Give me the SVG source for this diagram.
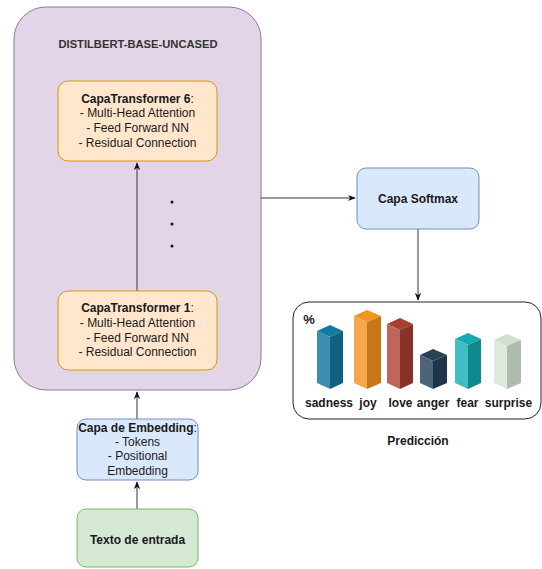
<svg xmlns="http://www.w3.org/2000/svg" width="542" height="569" viewBox="0 0 542 569">
<defs>
<style>
text{font-family:"Liberation Sans",Arial,sans-serif;font-size:12px;fill:#1a1a1a;text-anchor:middle}
.b{font-weight:bold}
.purple{fill:#e1d5e7;stroke:#9673a6;stroke-width:1}
.orange{fill:#ffe6cc;stroke:#d79b00;stroke-width:1}
.blue{fill:#dae8fc;stroke:#6c8ebf;stroke-width:1}
.green{fill:#d5e8d4;stroke:#82b366;stroke-width:1}
.edge{fill:none;stroke:#333;stroke-width:1}
.edgeg{fill:none;stroke:#555;stroke-width:1.2}
</style>
<marker id="ah" viewBox="0 0 10 10" refX="9" refY="5" markerWidth="8" markerHeight="8" markerUnits="userSpaceOnUse" orient="auto">
<path d="M0,1 L10,5 L0,9 L3,5 Z" fill="#111"/>
</marker>
</defs>
<rect width="542" height="569" fill="#ffffff"/>

<g id="distilbert">
<rect class="purple" x="14" y="7" width="247" height="383" rx="32"/>
<text class="b" x="138" y="48" style="font-size:11.2px;fill:#333">DISTILBERT-BASE-UNCASED</text>
</g>

<g id="connectors">
<path class="edgeg" d="M137,291 L137,163" marker-end="url(#ah)"/>
<path class="edge" d="M261,198 L355,198" marker-end="url(#ah)"/>
<path class="edge" d="M418,229 L418,300" marker-end="url(#ah)"/>
<path class="edgeg" d="M137,419 L137,392" marker-end="url(#ah)"/>
<path class="edgeg" d="M137,509 L137,482" marker-end="url(#ah)"/>
</g>

<g id="transformer6">
<rect class="orange" x="58" y="81" width="159" height="80" rx="10"/>
<text x="137.5" y="103"><tspan class="b">CapaTransformer 6</tspan>:</text>
<text x="137.5" y="117">- Multi-Head Attention</text>
<text x="137.5" y="132">- Feed Forward NN</text>
<text x="137.5" y="147">- Residual Connection</text>
</g>

<g id="dots">
<circle cx="172" cy="202" r="1.5" fill="#111"/>
<circle cx="172" cy="224" r="1.5" fill="#111"/>
<circle cx="172" cy="246" r="1.5" fill="#111"/>
</g>

<g id="transformer1">
<rect class="orange" x="58" y="291" width="159" height="79" rx="10"/>
<text x="137.5" y="312"><tspan class="b">CapaTransformer 1</tspan>:</text>
<text x="137.5" y="327">- Multi-Head Attention</text>
<text x="137.5" y="342">- Feed Forward NN</text>
<text x="137.5" y="356">- Residual Connection</text>
</g>

<g id="embedding">
<rect class="blue" x="77" y="419" width="121" height="61" rx="9"/>
<text x="137.5" y="432"><tspan class="b">Capa de Embedding</tspan>:</text>
<text x="137.5" y="446">- Tokens</text>
<text x="137.5" y="460">- Positional</text>
<text x="137.5" y="475">Embedding</text>
</g>

<g id="texto">
<rect class="green" x="77" y="509" width="121" height="58" rx="9"/>
<text class="b" x="137.5" y="544">Texto de entrada</text>
</g>

<g id="softmax">
<rect class="blue" x="357" y="168" width="122" height="61" rx="9"/>
<text class="b" x="418" y="203">Capa Softmax</text>
</g>

<g id="prediccion">
<rect x="293" y="302" width="248" height="117" rx="16" fill="#ffffff" stroke="#222" stroke-width="1"/>
<text class="b" x="309" y="324" style="font-size:13px">%</text>
<!-- sadness -->
<polygon points="317,331 330,325 343,331 330,337" fill="#1479a0"/>
<polygon points="317,331 330,337 330,389 317,383" fill="#3e8db0"/>
<polygon points="330,337 343,331 343,383 330,389" fill="#10607f"/>
<!-- joy -->
<polygon points="354,316 367,310 381,316 367,322" fill="#f3941f"/>
<polygon points="354,316 367,322 367,389 354,383" fill="#f5a84b"/>
<polygon points="367,322 381,316 381,383 367,389" fill="#c5771a"/>
<!-- love -->
<polygon points="387,324 400,318 413,324 400,330" fill="#a8402f"/>
<polygon points="387,324 400,330 400,389 387,383" fill="#bf665a"/>
<polygon points="400,330 413,324 413,383 400,389" fill="#8b3228"/>
<!-- anger -->
<polygon points="420,355 433,349 447,355 433,361" fill="#2a4256"/>
<polygon points="420,355 433,361 433,389 420,383" fill="#4d6478"/>
<polygon points="433,361 447,355 447,383 433,389" fill="#1f364a"/>
<!-- fear -->
<polygon points="455,339 468,333 481,339 468,345" fill="#17a9b1"/>
<polygon points="455,339 468,345 468,389 455,383" fill="#40bcc4"/>
<polygon points="468,345 481,339 481,383 468,389" fill="#0f898d"/>
<!-- surprise -->
<polygon points="494,340 507,334 521,340 507,346" fill="#cfe0cf"/>
<polygon points="494,340 507,346 507,389 494,383" fill="#dde9dd"/>
<polygon points="507,346 521,340 521,383 507,389" fill="#adbcad"/>
<text class="b" x="329" y="407">sadness</text>
<text class="b" x="368" y="407">joy</text>
<text class="b" x="400.5" y="407">love</text>
<text class="b" x="433" y="407">anger</text>
<text class="b" x="467.5" y="407">fear</text>
<text class="b" x="508.5" y="407">surprise</text>
</g>

<g id="prediccion-label">
<text class="b" x="418" y="445">Predicción</text>
</g>
</svg>
